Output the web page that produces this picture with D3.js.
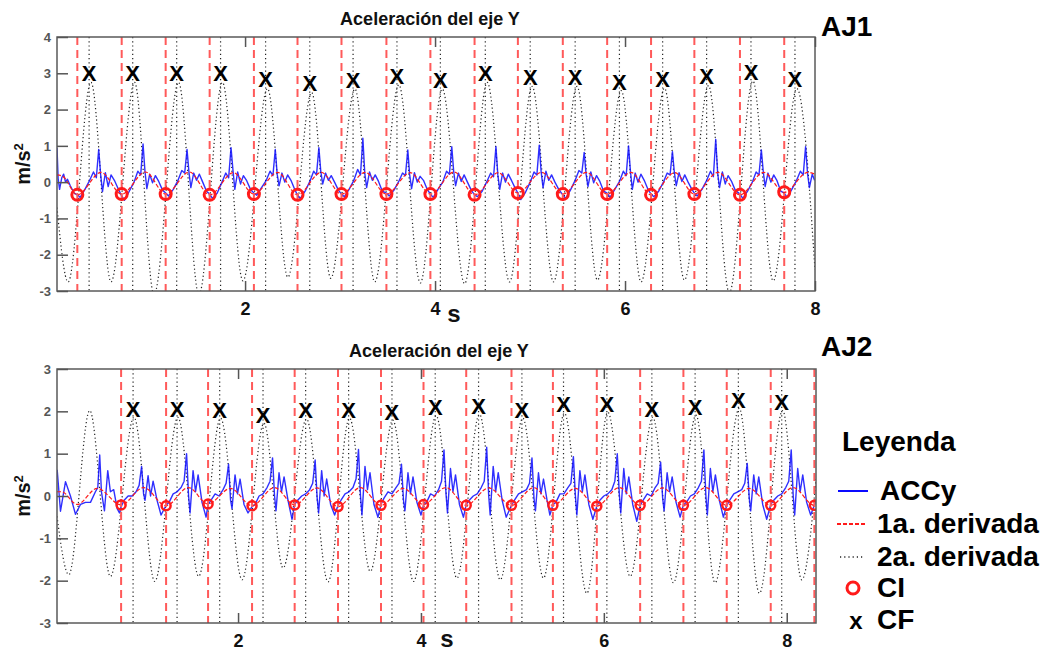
<!DOCTYPE html>
<html>
<head>
<meta charset="utf-8">
<script src="https://cdn.jsdelivr.net/npm/d3@7"></script>
<style>
  body { margin: 0; background: #fff; }
  #viz { width: 1050px; height: 654px; }
  text { font-family: "Liberation Sans", Arial, sans-serif; }
</style>
</head>
<body>
<div id="viz"></div>
<script>
// -----------------------------
// AXIS TICKS
// -----------------------------
const Y_TICKS_TOP = [-3, -2, -1, 0, 1, 2, 3, 4];
const Y_TICKS_BOT = [-3, -2, -1, 0, 1, 2, 3];
const X_TICKS = [2, 4, 6, 8];

// -----------------------------
// AJ1 (top panel)
// -----------------------------
// CI: contacto inicial (red circles + red dashed verticals)
const ciTopT = [0.234, 0.701, 1.164, 1.627, 2.093, 2.552, 3.015, 3.488, 3.951, 4.416, 4.872, 5.345, 5.812, 6.274, 6.730, 7.210, 7.676];
const ciTopV = [-0.35, -0.33, -0.33, -0.35, -0.33, -0.35, -0.33, -0.33, -0.33, -0.35, -0.3, -0.33, -0.33, -0.35, -0.33, -0.35, -0.28];
// CF: contacto final (X marks + dotted verticals)
const cfTopT = [0.358, 0.817, 1.280, 1.742, 2.216, 2.681, 3.137, 3.599, 4.056, 4.529, 5.002, 5.475, 5.941, 6.396, 6.859, 7.326, 7.789];
const cfTopV = [3.0, 3.0, 3.0, 3.0, 2.83, 2.72, 2.82, 2.93, 2.82, 3.0, 2.89, 2.89, 2.77, 2.84, 2.91, 3.04, 2.83];

// ACCy signal
const accyTopT = [
  0.02, 0.032, 0.047, 0.07, 0.09, 0.11, 0.13, 0.16, 0.2,
  0.234, 0.264, 0.314, 0.364, 0.404, 0.434, 0.459, 0.479, 0.499, 0.529, 0.559, 0.589, 0.624, 0.664,
  0.701, 0.731, 0.781, 0.831, 0.871, 0.901, 0.926, 0.946, 0.966, 0.996, 1.026, 1.056, 1.091, 1.131,
  1.164, 1.194, 1.244, 1.294, 1.334, 1.364, 1.389, 1.409, 1.429, 1.459, 1.489, 1.519, 1.554, 1.594,
  1.627, 1.657, 1.707, 1.757, 1.797, 1.827, 1.852, 1.872, 1.892, 1.922, 1.952, 1.982, 2.017, 2.057,
  2.093, 2.123, 2.173, 2.223, 2.263, 2.293, 2.318, 2.338, 2.358, 2.388, 2.418, 2.448, 2.483, 2.523,
  2.552, 2.582, 2.632, 2.682, 2.722, 2.752, 2.777, 2.797, 2.817, 2.847, 2.877, 2.907, 2.942, 2.982,
  3.015, 3.045, 3.095, 3.145, 3.185, 3.215, 3.240, 3.260, 3.280, 3.310, 3.340, 3.370, 3.405, 3.445,
  3.488, 3.518, 3.568, 3.618, 3.658, 3.688, 3.713, 3.733, 3.753, 3.783, 3.813, 3.843, 3.878, 3.918,
  3.951, 3.981, 4.031, 4.081, 4.121, 4.151, 4.176, 4.196, 4.216, 4.246, 4.276, 4.306, 4.341, 4.381,
  4.416, 4.446, 4.496, 4.546, 4.586, 4.616, 4.641, 4.661, 4.681, 4.711, 4.741, 4.771, 4.806, 4.846,
  4.872, 4.902, 4.952, 5.002, 5.042, 5.072, 5.097, 5.117, 5.137, 5.167, 5.197, 5.227, 5.262, 5.302,
  5.345, 5.375, 5.425, 5.475, 5.515, 5.545, 5.570, 5.590, 5.610, 5.640, 5.670, 5.700, 5.735, 5.775,
  5.812, 5.842, 5.892, 5.942, 5.982, 6.012, 6.037, 6.057, 6.077, 6.107, 6.137, 6.167, 6.202, 6.242,
  6.274, 6.304, 6.354, 6.404, 6.444, 6.474, 6.499, 6.519, 6.539, 6.569, 6.599, 6.629, 6.664, 6.704,
  6.730, 6.760, 6.810, 6.860, 6.900, 6.930, 6.955, 6.975, 6.995, 7.025, 7.055, 7.085, 7.120, 7.160,
  7.210, 7.240, 7.290, 7.340, 7.380, 7.410, 7.435, 7.455, 7.475, 7.505, 7.535, 7.565, 7.600, 7.640,
  7.676, 7.706, 7.756, 7.806, 7.846, 7.876, 7.901, 7.921, 7.941, 7.971, 7.995
];
const accyTopV = [
  0.95, 0.1, -0.2, 0.12, 0.22, 0.0, 0.08, -0.1, -0.3,
  -0.35, -0.42, -0.2, 0.05, 0.28, 0.12, 0.9, 0.22, -0.26, 0.26, -0.12, 0.2, 0.05, -0.18,
  -0.38, -0.5, -0.25, 0.0, 0.3, 0.2, 1.05, 0.3, -0.18, 0.22, -0.02, 0.18, 0.02, -0.22,
  -0.3, -0.38, -0.2, 0.05, 0.32, 0.25, 0.9, 0.28, -0.15, 0.25, 0.05, 0.22, 0.0, -0.25,
  -0.33, -0.45, -0.3, 0.0, 0.25, 0.12, 0.95, 0.35, -0.2, 0.28, -0.05, 0.18, 0.04, -0.2,
  -0.3, -0.36, -0.15, 0.05, 0.3, 0.18, 0.9, 0.22, -0.1, 0.25, 0.0, 0.2, 0.05, -0.2,
  -0.36, -0.45, -0.25, 0.02, 0.3, 0.2, 0.95, 0.3, -0.05, 0.25, 0.05, 0.18, 0.0, -0.22,
  -0.33, -0.4, -0.2, 0.05, 0.35, 0.2, 1.21, 0.25, -0.15, 0.28, 0.05, 0.2, 0.02, -0.25,
  -0.3, -0.38, -0.22, 0.02, 0.25, 0.18, 0.89, 0.2, -0.18, 0.26, 0.0, 0.16, 0.05, -0.2,
  -0.33, -0.42, -0.2, 0.0, 0.3, 0.22, 0.98, 0.3, -0.1, 0.25, 0.02, 0.2, 0.0, -0.22,
  -0.35, -0.4, -0.25, 0.02, 0.25, 0.15, 0.98, 0.2, -0.2, 0.25, 0.0, 0.22, 0.04, -0.18,
  -0.3, -0.48, -0.28, 0.0, 0.28, 0.2, 1.02, 0.28, -0.15, 0.3, 0.05, 0.2, 0.0, -0.2,
  -0.35, -0.45, -0.22, 0.05, 0.32, 0.25, 0.82, 0.22, -0.12, 0.28, -0.02, 0.18, 0.02, -0.25,
  -0.3, -0.42, -0.2, 0.02, 0.3, 0.18, 1.0, 0.3, -0.2, 0.25, 0.0, 0.22, 0.05, -0.2,
  -0.33, -0.4, -0.25, 0.0, 0.25, 0.2, 0.84, 0.28, -0.1, 0.26, 0.02, 0.2, 0.0, -0.2,
  -0.3, -0.38, -0.2, 0.05, 0.3, 0.15, 1.18, 0.25, -0.15, 0.28, -0.05, 0.18, 0.03, -0.22,
  -0.33, -0.45, -0.25, 0.0, 0.28, 0.2, 0.89, 0.3, -0.12, 0.25, 0.0, 0.2, 0.04, -0.25,
  -0.3, -0.42, -0.2, 0.05, 0.3, 0.2, 0.98, 0.25, -0.15, 0.22, 0.05
];

// 1a. derivada
const d1TopT = [0.02, 0.08, 0.234, 0.484, 0.701, 0.951, 1.164, 1.414, 1.627, 1.877, 2.093, 2.343, 2.552, 2.802, 3.015, 3.265, 3.488, 3.738, 3.951, 4.201, 4.416, 4.666, 4.872, 5.122, 5.345, 5.595, 5.812, 6.062, 6.274, 6.524, 6.730, 6.980, 7.210, 7.460, 7.676, 7.926, 8.0];
const d1TopV = [0.2, 0.16, -0.35, 0.27, -0.33, 0.28, -0.33, 0.28, -0.35, 0.26, -0.33, 0.27, -0.35, 0.27, -0.33, 0.27, -0.33, 0.26, -0.33, 0.28, -0.35, 0.26, -0.3, 0.27, -0.33, 0.27, -0.33, 0.27, -0.35, 0.26, -0.33, 0.27, -0.35, 0.27, -0.28, 0.27, 0.22];

// 2a. derivada (peaks and troughs)
const d2TopT = [0.02, 0.137, 0.378, 0.589, 0.837, 1.041, 1.300, 1.514, 1.762, 1.977, 2.236, 2.450, 2.701, 2.902, 3.157, 3.365, 3.619, 3.845, 4.076, 4.311, 4.549, 4.784, 5.022, 5.247, 5.495, 5.710, 5.961, 6.169, 6.416, 6.625, 6.879, 7.098, 7.346, 7.560, 7.809, 8.0];
const d2TopV = [-0.7, -2.75, 2.75, -2.75, 2.75, -3.1, 2.75, -3.1, 2.75, -2.72, 2.58, -2.62, 2.47, -2.65, 2.57, -2.75, 2.68, -2.78, 2.57, -2.8, 2.75, -2.75, 2.64, -2.75, 2.64, -2.7, 2.52, -2.75, 2.59, -2.7, 2.66, -3.05, 2.79, -2.72, 2.58, -2.42];

// -----------------------------
// AJ2 (bottom panel)
// -----------------------------
const ciBotT = [0.721, 1.213, 1.672, 2.153, 2.619, 3.093, 3.563, 4.028, 4.495, 4.990, 5.443, 5.923, 6.397, 6.870, 7.344, 7.825, 8.302];
const ciBotV = [-0.21, -0.23, -0.19, -0.23, -0.21, -0.25, -0.22, -0.2, -0.22, -0.22, -0.22, -0.24, -0.22, -0.22, -0.22, -0.22, -0.22];
const cfBotT = [0.852, 1.333, 1.799, 2.273, 2.739, 3.209, 3.683, 4.156, 4.630, 5.104, 5.559, 6.033, 6.525, 6.998, 7.471, 7.945];
const cfBotV = [2.06, 2.06, 2.04, 1.92, 2.02, 2.04, 1.99, 2.1, 2.13, 2.04, 2.16, 2.18, 2.06, 2.11, 2.27, 2.22];

const accyBotT = [
  0.022, 0.058, 0.113, 0.167, 0.222, 0.277, 0.331, 0.386, 0.44, 0.466, 0.487, 0.506, 0.539, 0.575, 0.604, 0.64, 0.678, 0.703,
  0.721, 0.754, 0.798, 0.841, 0.885, 0.918, 0.945, 0.967, 0.983, 1.016, 1.043, 1.071, 1.114, 1.158,
  1.213, 1.246, 1.290, 1.333, 1.377, 1.410, 1.437, 1.459, 1.475, 1.508, 1.535, 1.563, 1.606, 1.650,
  1.672, 1.705, 1.749, 1.792, 1.836, 1.869, 1.896, 1.918, 1.934, 1.967, 1.994, 2.022, 2.065, 2.109,
  2.153, 2.186, 2.230, 2.273, 2.317, 2.350, 2.377, 2.399, 2.415, 2.448, 2.475, 2.503, 2.546, 2.590,
  2.619, 2.652, 2.696, 2.739, 2.783, 2.816, 2.843, 2.865, 2.881, 2.914, 2.941, 2.969, 3.012, 3.056,
  3.093, 3.126, 3.170, 3.213, 3.257, 3.290, 3.317, 3.339, 3.355, 3.388, 3.415, 3.443, 3.486, 3.530,
  3.563, 3.596, 3.640, 3.683, 3.727, 3.760, 3.787, 3.809, 3.825, 3.858, 3.885, 3.913, 3.956, 4.000,
  4.028, 4.061, 4.105, 4.148, 4.192, 4.225, 4.252, 4.274, 4.290, 4.323, 4.350, 4.378, 4.421, 4.465,
  4.495, 4.528, 4.572, 4.615, 4.659, 4.692, 4.719, 4.741, 4.757, 4.790, 4.817, 4.845, 4.888, 4.932,
  4.990, 5.023, 5.067, 5.110, 5.154, 5.187, 5.214, 5.236, 5.252, 5.285, 5.312, 5.340, 5.383, 5.410,
  5.443, 5.476, 5.520, 5.563, 5.607, 5.640, 5.667, 5.689, 5.705, 5.738, 5.765, 5.793, 5.836, 5.880,
  5.923, 5.956, 6.000, 6.043, 6.087, 6.120, 6.147, 6.169, 6.185, 6.218, 6.245, 6.273, 6.316, 6.360,
  6.397, 6.430, 6.474, 6.517, 6.561, 6.594, 6.621, 6.643, 6.659, 6.692, 6.719, 6.747, 6.790, 6.834,
  6.870, 6.903, 6.947, 6.990, 7.034, 7.067, 7.094, 7.116, 7.132, 7.165, 7.192, 7.220, 7.263, 7.307,
  7.344, 7.377, 7.421, 7.464, 7.508, 7.541, 7.568, 7.590, 7.606, 7.639, 7.666, 7.694, 7.737, 7.781,
  7.825, 7.858, 7.902, 7.945, 7.989, 8.022, 8.049, 8.071, 8.087, 8.120, 8.147, 8.175, 8.218, 8.262,
  8.302, 8.32
];
const accyBotV = [
  0.62, -0.36, 0.34, 0.0, -0.43, -0.2, -0.15, -0.15, 0.1, 0.2, 0.97, 0.1, -0.35, 0.6, 0.1, 0.15, -0.3, -0.4,
  -0.25, -0.1, 0.0, 0.0, 0.1, 0.25, 0.7, 0.05, -0.1, 0.48, 0.0, 0.35, -0.1, -0.45,
  -0.22, -0.15, 0.05, 0.1, 0.2, 0.35, 1.0, 0.0, -0.4, 0.6, 0.1, 0.5, -0.15, -0.5,
  -0.2, -0.1, 0.05, 0.0, 0.15, 0.3, 0.75, -0.1, -0.3, 0.5, 0.05, 0.4, -0.2, -0.4,
  -0.25, -0.2, 0.0, 0.05, 0.2, 0.35, 0.9, 0.0, -0.35, 0.55, 0.1, 0.45, -0.1, -0.55,
  -0.2, -0.1, 0.0, 0.05, 0.15, 0.3, 0.85, -0.05, -0.4, 0.6, 0.0, 0.4, -0.2, -0.45,
  -0.22, -0.1, 0.05, 0.1, 0.2, 0.4, 1.1, 0.0, -0.45, 0.7, 0.15, 0.55, -0.2, -0.5,
  -0.2, -0.05, 0.1, 0.05, 0.2, 0.3, 0.75, -0.1, -0.35, 0.55, 0.05, 0.45, -0.15, -0.45,
  -0.22, -0.15, 0.05, 0.0, 0.15, 0.35, 1.09, 0.05, -0.4, 0.65, 0.1, 0.5, -0.2, -0.5,
  -0.2, -0.1, 0.0, 0.05, 0.2, 0.35, 1.15, 0.0, -0.45, 0.7, 0.1, 0.55, -0.1, -0.5,
  -0.22, -0.1, 0.05, 0.1, 0.15, 0.3, 0.9, -0.05, -0.35, 0.55, 0.05, 0.4, -0.15, -0.45,
  -0.2, -0.15, 0.05, 0.05, 0.2, 0.3, 0.93, 0.0, -0.45, 0.6, 0.1, 0.5, -0.2, -0.55,
  -0.24, -0.1, 0.0, 0.05, 0.15, 0.35, 1.0, 0.05, -0.4, 0.65, 0.05, 0.45, -0.2, -0.6,
  -0.22, -0.1, 0.05, 0.0, 0.2, 0.3, 0.8, -0.05, -0.35, 0.55, 0.1, 0.45, -0.15, -0.5,
  -0.2, -0.15, 0.0, 0.05, 0.2, 0.35, 1.09, 0.0, -0.45, 0.65, 0.1, 0.5, -0.1, -0.5,
  -0.22, -0.1, 0.05, 0.1, 0.15, 0.3, 0.77, -0.05, -0.35, 0.5, 0.05, 0.45, -0.2, -0.55,
  -0.2, -0.1, 0.0, 0.05, 0.2, 0.35, 1.09, 0.0, -0.45, 0.65, 0.1, 0.5, -0.15, -0.45,
  -0.22, -0.1
];

const d1BotT = [0.02, 0.07, 0.24, 0.46, 0.721, 0.966, 1.213, 1.458, 1.672, 1.917, 2.153, 2.398, 2.619, 2.864, 3.093, 3.338, 3.563, 3.808, 4.028, 4.273, 4.495, 4.740, 4.990, 5.235, 5.443, 5.688, 5.923, 6.168, 6.397, 6.642, 6.870, 7.115, 7.344, 7.589, 7.825, 8.070, 8.302, 8.32];
const d1BotV = [0.1, 0.1, -0.2, 0.18, -0.21, 0.2, -0.23, 0.2, -0.19, 0.18, -0.23, 0.2, -0.21, 0.19, -0.25, 0.2, -0.22, 0.18, -0.2, 0.2, -0.22, 0.19, -0.22, 0.2, -0.22, 0.18, -0.24, 0.2, -0.22, 0.19, -0.22, 0.2, -0.22, 0.18, -0.22, 0.2, -0.22, -0.2];

const d2BotT = [0.02, 0.149, 0.378, 0.604, 0.862, 1.089, 1.343, 1.569, 1.809, 2.044, 2.283, 2.492, 2.749, 2.984, 3.219, 3.446, 3.693, 3.919, 4.166, 4.393, 4.640, 4.867, 5.114, 5.340, 5.569, 5.814, 6.043, 6.288, 6.535, 6.761, 7.008, 7.216, 7.481, 7.701, 7.955, 8.164, 8.32];
const d2BotV = [-0.48, -1.86, 2.02, -1.9, 1.86, -2.02, 1.86, -1.9, 1.84, -1.98, 1.72, -1.7, 1.82, -2.03, 1.84, -1.78, 1.79, -2.02, 1.9, -1.94, 1.93, -1.98, 1.84, -1.94, 1.96, -2.3, 1.98, -1.9, 1.86, -2.05, 1.91, -2.05, 2.07, -2.3, 2.02, -1.98, 0.4];

const LEGEND_LABELS = ["ACCy", "1a. derivada", "2a. derivada", "CI", "CF"];

// -----------------------------
// STYLES
// -----------------------------
const BLUE = "#0a0aff";
const RED_V = "#ff5a5a";
const RED = "#ff1a1a";
const DOT = "#222";

const svg = d3.select("#viz")
  .append("svg")
  .attr("width", 1050)
  .attr("height", 654)
  .style("display", "block");

const panels = [
  {
    id: "aj1", box: { x0: 57, x1: 815, y0: 37, y1: 291 },
    xDom: [0.02, 8], yDom: [-3, 4], yTicks: Y_TICKS_TOP,
    ciT: ciTopT, ciV: ciTopV, cfT: cfTopT, cfV: cfTopV,
    accyT: accyTopT, accyV: accyTopV, d1T: d1TopT, d1V: d1TopV, d2T: d2TopT, d2V: d2TopV,
    title: [430, 25], tag: "AJ1", tagPos: [821, 36], sPos: [454, 322], rCI: 5.5, wCI: 3
  },
  {
    id: "aj2", box: { x0: 57, x1: 816, y0: 369, y1: 623 },
    xDom: [0.02, 8.32], yDom: [-3, 3], yTicks: Y_TICKS_BOT,
    ciT: ciBotT, ciV: ciBotV, cfT: cfBotT, cfV: cfBotV,
    accyT: accyBotT, accyV: accyBotV, d1T: d1BotT, d1V: d1BotV, d2T: d2BotT, d2V: d2BotV,
    title: [439, 357], tag: "AJ2", tagPos: [821, 356], sPos: [447, 647], rCI: 4.5, wCI: 2.5
  }
];

function drawPanel(p) {
  const b = p.box;
  const x = d3.scaleLinear().domain(p.xDom).range([b.x0, b.x1]);
  const y = d3.scaleLinear().domain(p.yDom).range([b.y1, b.y0]);

  svg.append("clipPath").attr("id", "clip-" + p.id)
    .append("rect")
    .attr("x", b.x0).attr("y", b.y0)
    .attr("width", b.x1 - b.x0).attr("height", b.y1 - b.y0);

  const g = svg.append("g").attr("clip-path", `url(#clip-${p.id})`);

  const smooth = d3.line().x(d => x(d[0])).y(d => y(d[1])).curve(d3.curveMonotoneX);
  const raw = d3.line().x(d => x(d[0])).y(d => y(d[1]));

  // 2a. derivada
  g.append("path")
    .attr("d", smooth(d3.zip(p.d2T, p.d2V)))
    .attr("fill", "none")
    .attr("stroke", DOT)
    .attr("stroke-width", 1.2)
    .attr("stroke-dasharray", "1.2,2.6");

  // CF verticals
  g.selectAll(".cf-line")
    .data(p.cfT)
    .join("line")
    .attr("x1", d => x(d)).attr("x2", d => x(d))
    .attr("y1", b.y0).attr("y2", b.y1)
    .attr("stroke", DOT)
    .attr("stroke-width", 1.2)
    .attr("stroke-dasharray", "1.2,3");

  // ACCy
  g.append("path")
    .attr("d", raw(d3.zip(p.accyT, p.accyV)))
    .attr("fill", "none")
    .attr("stroke", BLUE)
    .attr("stroke-width", 1.4)
    .attr("stroke-linejoin", "round")
    .attr("opacity", 0.85);

  // 1a. derivada
  g.append("path")
    .attr("d", smooth(d3.zip(p.d1T, p.d1V)))
    .attr("fill", "none")
    .attr("stroke", RED)
    .attr("stroke-width", 1.2)
    .attr("stroke-dasharray", "4,2");

  // CI verticals
  g.selectAll(".ci-line")
    .data(p.ciT)
    .join("line")
    .attr("x1", d => x(d)).attr("x2", d => x(d))
    .attr("y1", b.y0).attr("y2", b.y1)
    .attr("stroke", RED_V)
    .attr("stroke-width", 2)
    .attr("stroke-dasharray", "8,5");

  // CI circles
  g.selectAll(".ci")
    .data(d3.zip(p.ciT, p.ciV))
    .join("circle")
    .attr("cx", d => x(d[0]))
    .attr("cy", d => y(d[1]))
    .attr("r", p.rCI)
    .attr("fill", "none")
    .attr("stroke", RED)
    .attr("stroke-width", p.wCI);

  // CF marks
  g.selectAll(".cf")
    .data(d3.zip(p.cfT, p.cfV))
    .join("text")
    .attr("x", d => x(d[0]))
    .attr("y", d => y(d[1]))
    .attr("dy", "0.36em")
    .attr("text-anchor", "middle")
    .attr("font-size", 22)
    .attr("font-weight", "bold")
    .text("X");

  // frame
  svg.append("rect")
    .attr("x", b.x0).attr("y", b.y0)
    .attr("width", b.x1 - b.x0).attr("height", b.y1 - b.y0)
    .attr("fill", "none")
    .attr("stroke", "#5a5a5a")
    .attr("stroke-width", 1.5);

  // axes
  const yAx = svg.append("g")
    .attr("transform", `translate(${b.x0},0)`)
    .call(d3.axisLeft(y).tickValues(p.yTicks).tickSize(-11).tickPadding(6).tickFormat(d => String(d)));
  yAx.select(".domain").remove();
  yAx.selectAll("line").attr("stroke", "#555").attr("stroke-width", 1.5);
  yAx.selectAll("text")
    .attr("fill", "#555")
    .attr("font-size", 13)
    .attr("font-weight", "bold")
    .attr("font-family", "Liberation Sans, Arial, sans-serif");

  const xAx = svg.append("g")
    .attr("transform", `translate(0,${b.y1})`)
    .call(d3.axisBottom(x).tickValues(X_TICKS).tickSize(-10).tickPadding(11).tickFormat(d => String(d)));
  xAx.select(".domain").remove();
  xAx.selectAll("line").attr("stroke", "#555").attr("stroke-width", 1.5);
  xAx.selectAll("text")
    .attr("fill", "#111")
    .attr("font-size", 18)
    .attr("font-weight", "bold")
    .attr("font-family", "Liberation Sans, Arial, sans-serif");

  const xTop = svg.append("g")
    .attr("transform", `translate(0,${b.y0})`)
    .call(d3.axisTop(x).tickValues(X_TICKS).tickSize(-10).tickFormat(""));
  xTop.select(".domain").remove();
  xTop.selectAll("line").attr("stroke", "#555").attr("stroke-width", 1.5);

  // labels
  svg.append("text")
    .attr("x", p.title[0]).attr("y", p.title[1])
    .attr("text-anchor", "middle")
    .attr("font-size", 18)
    .attr("font-weight", "bold")
    .attr("fill", "#111")
    .text("Aceleración del eje Y");

  svg.append("text")
    .attr("x", p.tagPos[0]).attr("y", p.tagPos[1])
    .attr("font-size", 28)
    .attr("font-weight", "bold")
    .attr("fill", "#000")
    .text(p.tag);

  svg.append("text")
    .attr("x", p.sPos[0]).attr("y", p.sPos[1])
    .attr("text-anchor", "middle")
    .attr("font-size", 24)
    .attr("font-weight", "bold")
    .attr("fill", "#111")
    .text("s");

  const yl = svg.append("text")
    .attr("transform", `translate(30,${(b.y0 + b.y1) / 2}) rotate(-90)`)
    .attr("text-anchor", "middle")
    .attr("font-size", 20)
    .attr("font-weight", "bold")
    .attr("fill", "#111");
  yl.append("tspan").text("m/s");
  yl.append("tspan").attr("dy", -7).attr("font-size", 13).text("2");
}

panels.forEach(drawPanel);

// -----------------------------
// LEGEND
// -----------------------------
const lg = svg.append("g");
lg.append("text")
  .attr("x", 842).attr("y", 451)
  .attr("font-size", 28).attr("font-weight", "bold")
  .text("Leyenda");

const rowY = [491, 524, 557, 588, 620];

lg.append("line")
  .attr("x1", 838).attr("x2", 868).attr("y1", rowY[0]).attr("y2", rowY[0])
  .attr("stroke", BLUE).attr("stroke-width", 2);
lg.append("line")
  .attr("x1", 837).attr("x2", 867).attr("y1", rowY[1]).attr("y2", rowY[1])
  .attr("stroke", RED).attr("stroke-width", 2).attr("stroke-dasharray", "4,2");
lg.append("line")
  .attr("x1", 840).attr("x2", 864).attr("y1", rowY[2]).attr("y2", rowY[2])
  .attr("stroke", DOT).attr("stroke-width", 1.3).attr("stroke-dasharray", "1.2,3");
lg.append("circle")
  .attr("cx", 853).attr("cy", rowY[3]).attr("r", 6)
  .attr("fill", "none").attr("stroke", RED).attr("stroke-width", 3);
lg.append("text")
  .attr("x", 856).attr("y", rowY[4]).attr("dy", "0.36em")
  .attr("text-anchor", "middle")
  .attr("font-size", 24).attr("font-weight", "bold")
  .text("x");

lg.selectAll(".lab")
  .data(LEGEND_LABELS)
  .join("text")
  .attr("x", (d, i) => i === 0 ? 880 : 877)
  .attr("y", (d, i) => rowY[i] + 9)
  .attr("font-size", 28)
  .attr("font-weight", "bold")
  .text(d => d);
</script>
</body>
</html>
